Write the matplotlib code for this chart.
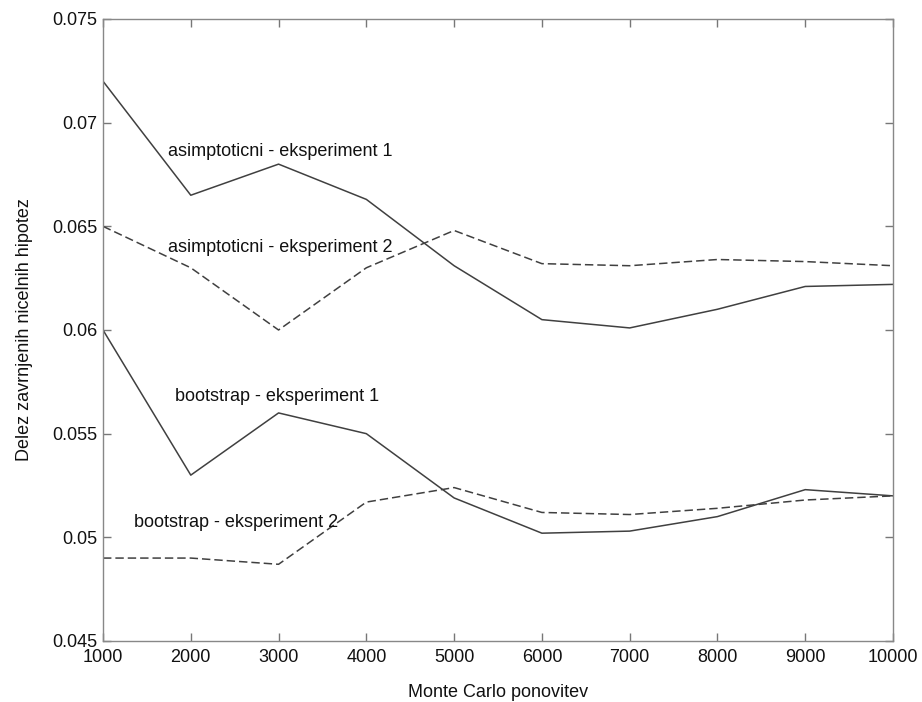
import matplotlib
matplotlib.use("Agg")
import matplotlib.pyplot as plt

plt.rcParams['font.family'] = ['Liberation Sans', 'DejaVu Sans']

x_reps = [1000, 2000, 3000, 4000, 5000, 6000, 7000, 8000, 9000, 10000]
asym_exp1 = [0.0720, 0.0665, 0.0680, 0.0663, 0.0631, 0.0605, 0.0601, 0.0610, 0.0621, 0.0622]
asym_exp2 = [0.0650, 0.0630, 0.0600, 0.0630, 0.0648, 0.0632, 0.0631, 0.0634, 0.0633, 0.0631]
boot_exp1 = [0.0600, 0.0530, 0.0560, 0.0550, 0.0519, 0.0502, 0.0503, 0.0510, 0.0523, 0.0520]
boot_exp2 = [0.0490, 0.0490, 0.0487, 0.0517, 0.0524, 0.0512, 0.0511, 0.0514, 0.0518, 0.0520]

x_ticks = [1000, 2000, 3000, 4000, 5000, 6000, 7000, 8000, 9000, 10000]
y_ticks = [0.045, 0.05, 0.055, 0.06, 0.065, 0.07, 0.075]
y_tick_labels = ["0.045", "0.05", "0.055", "0.06", "0.065", "0.07", "0.075"]

annotations = [
    ("asimptoticni - eksperiment 1", 1740, 0.0686),
    ("asimptoticni - eksperiment 2", 1740, 0.0640),
    ("bootstrap - eksperiment 1", 1820, 0.0568),
    ("bootstrap - eksperiment 2", 1350, 0.0507),
]

fig = plt.figure(figsize=(9.22, 7.02), dpi=100)
ax = fig.add_axes([103/922, 1 - 641/702, (893 - 103)/922, (641 - 19)/702])

line_color = "#404040"
dash = (0, (5.5, 2.6))
ax.plot(x_reps, asym_exp1, color=line_color, lw=1.1, ls='-')
ax.plot(x_reps, asym_exp2, color=line_color, lw=1.1, ls=dash)
ax.plot(x_reps, boot_exp1, color=line_color, lw=1.1, ls='-')
ax.plot(x_reps, boot_exp2, color=line_color, lw=1.1, ls=dash)

for txt, xx, yy in annotations:
    ax.text(xx, yy, txt, fontsize=13, ha='left', va='center', color='#111111')

ax.set_xlim(1000, 10000)
ax.set_ylim(0.045, 0.075)
ax.set_xticks(x_ticks)
ax.set_xticklabels([str(v) for v in x_ticks])
ax.set_yticks(y_ticks)
ax.set_yticklabels(y_tick_labels)

for s in ax.spines.values():
    s.set_color('#888888')
    s.set_linewidth(1.0)
ax.tick_params(direction='in', top=True, right=True, length=6, width=1.0,
               color='#777777', labelsize=13, labelcolor='#111111')
ax.tick_params(axis='x', pad=6)
ax.tick_params(axis='y', pad=4)

ax.set_xlabel("Monte Carlo ponovitev", fontsize=13, labelpad=13, color='#111111')
ax.set_ylabel("Delez zavrnjenih nicelnih hipotez", fontsize=13, labelpad=14, color='#111111')

fig.savefig("out.png", dpi=100)
